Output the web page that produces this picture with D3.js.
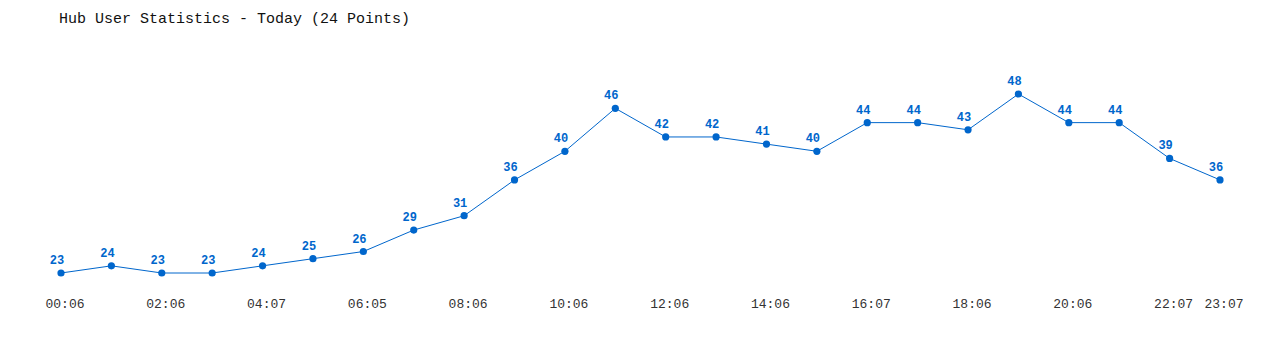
<!DOCTYPE html>
<html>
<head>
<meta charset="utf-8">
<script src="https://cdn.jsdelivr.net/npm/d3@7"></script>
<style>
  body { margin: 0; background: #fff; }
  svg text { font-family: "Liberation Mono", "DejaVu Sans Mono", monospace; }
</style>
</head>
<body>
<svg id="chart"></svg>
<script>
// chart data
let times = ["00:06","01:06","02:06","03:06","04:07","05:06","06:05","07:06","08:06","09:06","10:06","11:06",
             "12:06","13:06","14:06","15:06","16:07","17:06","18:06","19:06","20:06","21:06","22:07","23:07"];
let users = [23,24,23,23,24,25,26,29,31,36,40,46,42,42,41,40,44,44,43,48,44,44,39,36];
let labelIdx = [0,2,4,6,8,10,12,14,16,18,20,22,23];

let width = 1280, height = 350;
let svg = d3.select("#chart").attr("width", width).attr("height", height);

// title
svg.append("text")
    .attr("x", 59)
    .attr("y", 23)
    .style("font-size", "15px")
    .style("fill", "#111")
    .text("Hub User Statistics - Today (24 Points)");

let x = d3.scalePoint()
    .domain(d3.range(users.length))
    .range([61, 1220]);

let y = d3.scaleLinear()
    .domain([23, 48])
    .range([273, 94]);

let line = d3.line()
    .x((d, i) => x(i))
    .y(d => y(d));

svg.append("path")
    .datum(users)
    .attr("fill", "none")
    .attr("stroke", "#0066cc")
    .attr("stroke-width", 1)
    .attr("d", line);

svg.selectAll(".dot")
    .data(users)
    .enter().append("circle")
    .attr("class", "dot")
    .attr("cx", (d, i) => x(i))
    .attr("cy", d => y(d))
    .attr("r", 3.6)
    .style("fill", "#0066cc");

// value labels
svg.selectAll(".val")
    .data(users)
    .enter().append("text")
    .attr("class", "val")
    .attr("x", (d, i) => x(i) - 4)
    .attr("y", d => y(d) - 9)
    .attr("text-anchor", "middle")
    .style("font-size", "12px")
    .style("font-weight", "bold")
    .style("fill", "#0066cc")
    .text(d => d);

// time labels
svg.selectAll(".tick-label")
    .data(labelIdx)
    .enter().append("text")
    .attr("class", "tick-label")
    .attr("x", i => x(i) + 4)
    .attr("y", 308)
    .attr("text-anchor", "middle")
    .style("font-size", "13px")
    .style("fill", "#333")
    .text(i => times[i]);
</script>
</body>
</html>
